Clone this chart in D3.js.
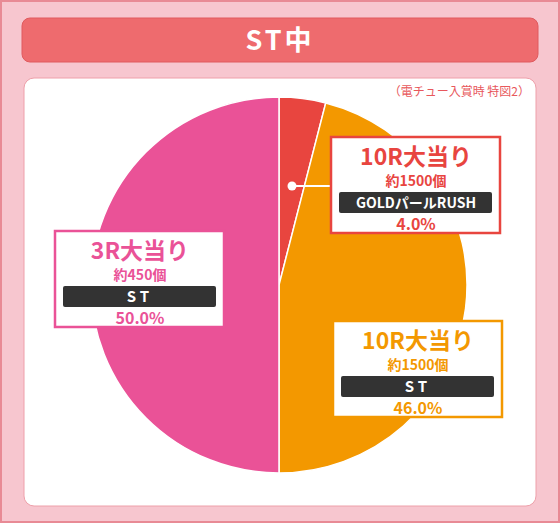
<!DOCTYPE html><html><head><meta charset="utf-8"><script src="https://cdn.jsdelivr.net/npm/d3@7"></script>
<style>body{margin:0}svg{display:block;font-family:"Noto Sans CJK JP",sans-serif}</style></head><body><svg width="560" height="523"></svg>
<script>
const labels=["10R大当り","10R大当り","3R大当り"];
const payouts=["約1500個","約1500個","約450個"];
const modes=["GOLDパールRUSH","ST","ST"];
const values=[4.0,46.0,50.0];
const colors=["#e8453f","#f39800","#ea5297"];
const svg=d3.select("svg");
svg.append("rect").attr("width",560).attr("height",523).attr("fill","#f7c6cf");
svg.append("rect").attr("x",1).attr("y",1).attr("width",558).attr("height",521).attr("fill","none").attr("stroke","#e88a95").attr("stroke-width",2);
svg.append("rect").attr("x",22).attr("y",18).attr("width",516).attr("height",44).attr("rx",8).attr("fill","#ee6b6e").attr("stroke","#e05a5e");
svg.append("text").attr("x",280).attr("y",50).attr("text-anchor","middle").attr("fill","#fff").attr("font-size",27).attr("font-weight",700).attr("letter-spacing",3).text("ST中");
svg.append("rect").attr("x",24).attr("y",78).attr("width",512).attr("height",428).attr("rx",10).attr("fill","#fff").attr("stroke","#eea0aa");
svg.append("text").attr("x",530).attr("y",96).attr("text-anchor","end").attr("fill","#e8585c").attr("font-size",12).text("（電チュー入賞時 特図2）");
const cx=279,cy=285,r=188;
const pie=d3.pie().sort(null).value(d=>d)(values);
const arc=d3.arc().innerRadius(0).outerRadius(r);
const g=svg.append("g").attr("transform",`translate(${cx},${cy})`);
g.selectAll("path").data(pie).join("path").attr("d",arc).attr("fill",(d,i)=>colors[i]).attr("stroke","#fff").attr("stroke-width",1.5);
const lp=[292,186];
svg.append("line").attr("x1",lp[0]).attr("y1",lp[1]).attr("x2",333).attr("y2",186).attr("stroke","#fff").attr("stroke-width",2);
svg.append("circle").attr("cx",lp[0]).attr("cy",lp[1]).attr("r",4.5).attr("fill","#fff");
const boxes=[[331,137],[333,321],[55,231]];
boxes.forEach(([x,y],i)=>{
 const b=svg.append("g").attr("transform",`translate(${x},${y})`);
 b.append("rect").attr("width",169).attr("height",96).attr("fill","#fff").attr("stroke",colors[i]).attr("stroke-width",2.5);
 b.append("text").attr("x",85).attr("y",28).attr("text-anchor","middle").attr("fill",colors[i]).attr("font-size",23).attr("font-weight",700).text(labels[i]);
 b.append("text").attr("x",85).attr("y",49).attr("text-anchor","middle").attr("fill",colors[i]).attr("font-size",14).attr("font-weight",700).text(payouts[i]);
 b.append("rect").attr("x",8).attr("y",55).attr("width",153).attr("height",21).attr("rx",2).attr("fill","#333");
 b.append("text").attr("x",85).attr("y",71).attr("text-anchor","middle").attr("fill","#fff").attr("font-size",modes[i].length>3?14:15).attr("font-weight",700).attr("letter-spacing",modes[i].length>3?0:4).text(modes[i]);
 b.append("text").attr("x",85).attr("y",93).attr("text-anchor","middle").attr("fill",colors[i]).attr("font-size",16).attr("font-weight",700).text(values[i].toFixed(1)+"%");
});
</script></body></html>
